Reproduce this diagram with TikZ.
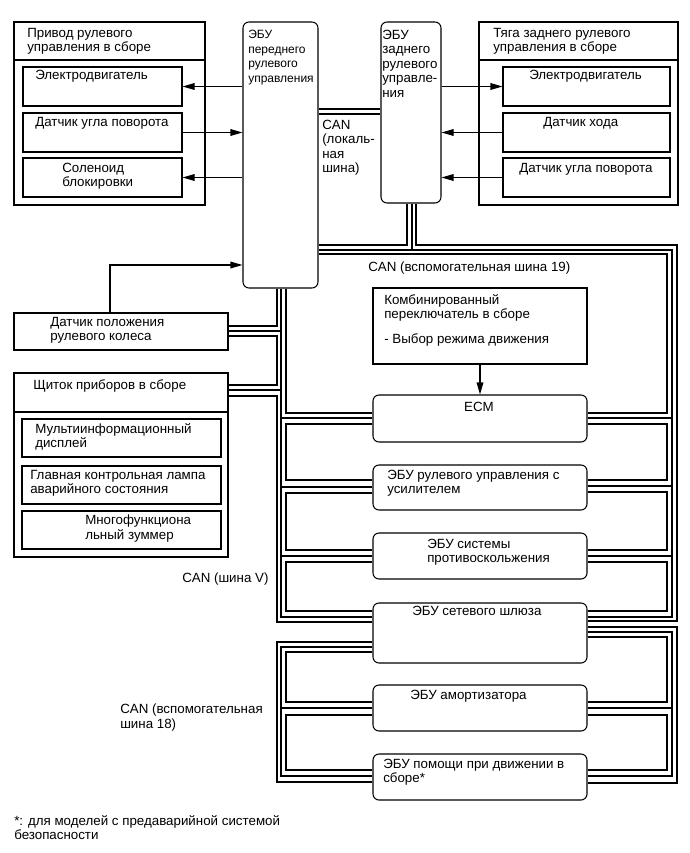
\documentclass[tikz,border=0pt]{standalone}
\usepackage{fontspec}
\setmainfont{Liberation Sans}
\usetikzlibrary{arrows.meta,fit,positioning}

\begin{document}
\begin{tikzpicture}[
  x=0.75pt, y=-0.75pt,
  >={Triangle[length=9pt,width=5pt]},
  font=\fontsize{10}{10.8}\selectfont,
  blk/.style={draw, line width=0.8pt, inner sep=0pt},
  ecu/.style={blk, rounded corners=4.5pt},
  txt/.style={anchor=north west, inner sep=0pt, align=left},
  cantk/.style={line width=1.9pt},
  cantn/.style={line width=0.8pt},
  sig/.style={line width=0.8pt}
]
  \useasboundingbox (0,0) rectangle (689,853);

  % steering actuators and their ECUs
  \node[blk, fit={(14,22) (205,205)}] (lasm) {};
  \node[blk, fit={(23,67) (182,106)}] (lmot) {};
  \node[blk, fit={(23,113) (182,152)}] (lang) {};
  \node[blk, fit={(23,158) (182,197)}] (lsol) {};
  \node[ecu, fit={(243,22) (318,288)}] (fecu) {};
  \node[ecu, fit={(381,22) (441,203)}] (recu) {};
  \node[blk, fit={(479,22) (678,205)}] (rasm) {};
  \node[blk, fit={(503,67) (670,106)}] (rmot) {};
  \node[blk, fit={(503,113) (670,152)}] (rstr) {};
  \node[blk, fit={(503,158) (670,197)}] (rang) {};
  \draw[sig] (lasm.west |- 0,60) -- (lasm.east |- 0,60);
  \draw[sig] (rasm.west |- 0,60) -- (rasm.east |- 0,60);

  % left column
  \node[blk, fit={(14,313) (228,350)}] (swpos) {};
  \node[blk, fit={(14,373) (228,557)}] (clus) {};
  \node[blk, fit={(22,419) (221,457)}] (mid) {};
  \node[blk, fit={(22,466) (221,504)}] (mil) {};
  \node[blk, fit={(22,511) (221,549)}] (buz) {};
  \draw[sig] (clus.west |- 0,412) -- (clus.east |- 0,412);

  % bus members
  \node[blk, fit={(373,288) (587,364)}] (cmb) {};
  \node[ecu, fit={(373,395) (587,442)}] (ecm) {};
  \node[ecu, fit={(373,465) (587,510)}] (eps) {};
  \node[ecu, fit={(373,533) (587,579)}] (skid) {};
  \node[ecu, fit={(373,603) (587,663)}] (gw) {};
  \node[ecu, fit={(373,685) (587,731)}] (abs) {};
  \node[ecu, fit={(373,754) (587,800)}] (das) {};

  % texts
  \node[txt] (t-lasm) at (27,28) {Привод рулевого\\управления в сборе};
  \node[txt] (t-lmot) at (35,70) {Электродвигатель};
  \node[txt] (t-lang) at (35,117) {Датчик угла поворота};
  \node[txt] (t-lsol) at (62,163) {Соленоид\\блокировки};
  \node[txt, font=\fontsize{9}{11}\selectfont] (t-fecu) at (248,30) {ЭБУ\\переднего\\рулевого\\управления};
  \node[txt] (t-recu) at (382,30) {ЭБУ\\заднего\\рулевого\\управле-\\ния};
  \node[txt] (t-rasm) at (493,28) {Тяга заднего рулевого\\управления в сборе};
  \node[txt] (t-rmot) at (529,70) {Электродвигатель};
  \node[txt] (t-rstr) at (543,117) {Датчик хода};
  \node[txt] (t-rang) at (519,163) {Датчик угла поворота};
  \node[txt] (t-loc) at (322,120) {CAN\\(локаль-\\ная\\шина)};
  \node[txt] (t-swpos) at (50,317) {Датчик положения\\рулевого колеса};
  \node[txt] (t-clus) at (33,379) {Щиток приборов в сборе};
  \node[txt] (t-mid) at (35,423) {Мультиинформационный\\дисплей};
  \node[txt] (t-mil) at (30,470) {Главная контрольная лампа\\аварийного состояния};
  \node[txt] (t-buz) at (85,515) {Многофункциона\\льный зуммер};
  \node[txt] (t-busv) at (182,573) {CAN (шина V)};
  \node[txt] (t-bus19) at (368,262) {CAN (вспомогательная шина 19)};
  \node[txt] (t-cmb) at (384,294) {Комбинированный\\переключатель в сборе\\[8pt]- Выбор режима движения};
  \node[txt, anchor=north] (t-ecm) at (479,402) {ECM};
  \node[txt] (t-eps) at (387,470) {ЭБУ рулевого управления с\\усилителем};
  \node[txt] (t-skid) at (427,539) {ЭБУ системы\\противоскольжения};
  \node[txt] (t-gw) at (412,606) {ЭБУ сетевого шлюза};
  \node[txt] (t-abs) at (410,690) {ЭБУ амортизатора};
  \node[txt] (t-das) at (383,759) {ЭБУ помощи при движении в\\сборе*};
  \node[txt] (t-bus18) at (120,704) {CAN (вспомогательная\\шина 18)};
  \node[txt] (t-note) at (14,815) {*: для моделей с предаварийной системой\\безопасности};

  % signal lines
  \draw[sig,<-] (lmot.east) -- (lmot.east -| fecu.west);
  \draw[sig,->] (lang.east) -- (lang.east -| fecu.west);
  \draw[sig,<-] (lsol.east) -- (lsol.east -| fecu.west);
  \draw[sig,->] (rmot.west -| recu.east) -- (rmot.west);
  \draw[sig,<-] (rstr.west -| recu.east) -- (rstr.west);
  \draw[sig,<-] (rang.west -| recu.east) -- (rang.west);
  \draw[sig,->] (swpos.north -| 110,0) |- (fecu.west |- 0,265);
  \draw[sig,->] (cmb) -- (ecm);

  % CAN local
  \draw[cantk] (fecu.east |- 0,109) -- (recu.west |- 0,109);
  \draw[cantn] (fecu.east |- 0,114) -- (recu.west |- 0,114);

  % CAN V bus
  \draw[cantk] (fecu.south -| 277,0) |- (swpos.east |- 0,326);
  \draw[cantk] (swpos.east |- 0,336) -| (277,385) -- (clus.east |- 0,385);
  \draw[cantk] (clus.east |- 0,396) -| (277,622) -- (gw.west |- 0,622);
  \draw[cantn] (fecu.south -| 281,0) |- (gw.west |- 0,617);
  \draw[cantn] (swpos.east |- 0,331) -- (281,331);
  \draw[cantn] (clus.east |- 0,390) -- (281,390);
  \draw[cantn] (281,418) -- (ecm.west |- 0,418);
  \draw[cantn] (281,487) -- (eps.west |- 0,487);
  \draw[cantn] (281,556) -- (skid.west |- 0,556);
  \draw[cantk] (fecu.south -| 286,0) |- (ecm.west |- 0,413);
  \draw[cantk] (ecm.west |- 0,424) -| (286,480) -- (eps.west |- 0,480);
  \draw[cantk] (eps.west |- 0,493) -| (286,550) -- (skid.west |- 0,550);
  \draw[cantk] (skid.west |- 0,562) -| (286,611) -- (gw.west |- 0,611);

  % CAN sub bus 19
  \draw[cantk] (fecu.east |- 0,245) -| (recu.south -| 407,0);
  \draw[cantn] (recu.south -| 412,0) -- (412,250);
  \draw[cantn] (fecu.east |- 0,250) -| (672,617) -- (gw.east |- 0,617);
  \draw[cantk] (recu.south -| 416,0) |- (677,245) |- (gw.east |- 0,621);
  \draw[cantk] (fecu.east |- 0,254) -| (667,413) -- (ecm.east |- 0,413);
  \draw[cantk] (ecm.east |- 0,424) -| (667,480) -- (eps.east |- 0,480);
  \draw[cantk] (eps.east |- 0,492) -| (667,550) -- (skid.east |- 0,550);
  \draw[cantk] (skid.east |- 0,562) -| (667,611) -- (gw.east |- 0,611);
  \draw[cantn] (ecm.east |- 0,418) -- (672,418);
  \draw[cantn] (eps.east |- 0,486) -- (672,486);
  \draw[cantn] (skid.east |- 0,556) -- (672,556);

  % CAN sub bus 18
  \draw[cantk] (gw.west |- 0,642) -| (277,782) -- (das.west |- 0,782);
  \draw[cantn] (gw.west |- 0,647) -| (281,776) -- (das.west |- 0,776);
  \draw[cantn] (281,708) -- (abs.west |- 0,708);
  \draw[cantk] (gw.west |- 0,652) -| (286,702) -- (abs.west |- 0,702);
  \draw[cantk] (abs.west |- 0,715) -| (286,770) -- (das.west |- 0,770);
  \draw[cantk] (gw.east |- 0,627) -| (677,783) -- (das.east |- 0,783);
  \draw[cantn] (gw.east |- 0,632) -| (672,776) -- (das.east |- 0,776);
  \draw[cantn] (abs.east |- 0,708) -- (672,708);
  \draw[cantk] (gw.east |- 0,637) -| (667,702) -- (abs.east |- 0,702);
  \draw[cantk] (abs.east |- 0,715) -| (667,770) -- (das.east |- 0,770);
\end{tikzpicture}
\end{document}
